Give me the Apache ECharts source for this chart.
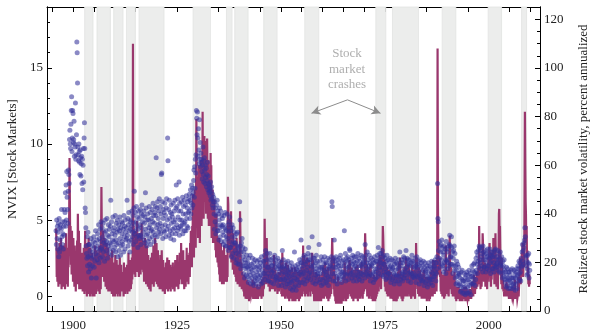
<!DOCTYPE html>
<html><head><meta charset="utf-8">
<script src="https://cdn.jsdelivr.net/npm/echarts@6/dist/echarts.min.js"></script>
<style>html,body{margin:0;padding:0;background:#fff}#c{width:590px;height:336px}</style>
</head><body><div id="c"></div>
<script>
// monthly series, first month at START (decimal year)
const START = 1895.92;
const nvix = [
4.3,3.4,5.0,3.8,4.6,3.1,4.2,4.8,2.6,5.1,2.9,4.5,
3.7,4.7,3.2,4.4,5.7,3.9,3.4,4.9,4.1,3.1,4.6,4.0,
5.7,4.9,5.5,6.8,4.6,7.3,5.0,8.2,6.5,5.7,4.8,6.9,
8.3,8.0,7.4,10.3,10.9,10.0,9.7,11.3,12.2,13.1,9.5,10.4,
12.2,12.0,10.1,10.3,11.5,9.2,10.0,9.8,12.7,9.0,9.3,10.6,
16.7,16.0,14.0,9.8,9.3,8.9,10.0,9.5,8.8,8.0,9.6,9.1,
7.9,8.7,9.2,7.4,9.0,7.0,8.6,9.7,7.5,10.4,11.4,9.7,
5.8,5.5,4.5,3.3,2.8,2.5,3.9,2.0,4.2,2.6,1.6,3.4,
3.4,2.1,3.0,1.8,2.7,3.8,1.2,2.5,3.3,2.0,2.9,3.6,
2.6,3.9,1.9,3.2,2.3,3.5,4.3,2.8,1.2,3.1,3.7,2.4,
4.1,2.7,3.3,4.7,2.2,3.8,3.0,4.4,2.5,3.6,4.9,3.1,
3.2,4.5,2.6,3.9,4.8,2.9,3.5,4.2,2.3,3.7,5.0,3.4,
4.3,3.0,3.6,5.1,2.5,4.0,3.3,4.7,2.8,3.9,4.4,3.5,
3.1,4.6,6.3,3.4,4.9,2.7,4.1,3.7,5.2,3.0,4.3,3.6,
4.5,3.2,4.0,5.3,2.9,3.7,4.8,3.4,4.2,5.0,2.6,4.4,
3.5,4.7,3.0,4.3,5.2,3.8,2.7,4.5,3.3,4.9,4.1,3.6,
4.8,3.4,4.4,2.9,5.3,3.9,4.6,3.1,5.0,4.2,3.7,4.5,
3.8,6.3,4.0,5.1,3.3,4.7,5.5,3.6,4.3,2.9,4.9,4.4,
5.0,3.7,4.6,5.6,3.9,4.2,5.3,3.4,4.8,5.8,6.9,4.1,
4.3,5.5,3.6,4.9,5.9,3.9,4.6,5.2,3.2,4.4,5.6,4.0,
5.1,3.8,4.7,5.7,4.0,3.4,5.4,4.5,6.0,3.9,4.9,5.3,
4.2,5.6,3.7,4.8,5.2,3.5,6.8,4.4,5.8,4.0,3.3,5.0,
5.4,4.1,3.6,5.0,4.5,5.9,3.8,4.7,5.5,3.4,4.3,5.1,
4.4,5.7,3.9,4.9,6.1,4.2,5.3,3.6,4.8,5.5,4.0,5.9,
5.3,9.1,4.5,5.8,3.9,6.2,4.7,5.1,4.2,5.6,6.4,4.4,
4.8,5.9,4.1,5.4,8.0,8.1,4.6,6.2,3.8,5.1,5.7,4.3,
5.5,4.2,6.1,4.7,5.3,3.9,5.8,6.4,4.4,5.0,10.4,8.9,
4.6,5.7,4.0,6.3,5.1,4.3,5.5,3.8,6.0,4.8,5.4,4.1,
5.2,4.4,6.1,4.9,3.7,5.6,4.5,6.3,5.0,4.1,5.8,7.3,
4.7,5.9,4.3,6.4,5.2,4.5,5.6,7.5,4.0,6.1,5.0,4.6,
5.6,4.4,6.2,5.0,4.7,6.5,4.1,5.4,5.9,4.8,6.3,4.3,
4.9,6.0,5.4,4.3,6.6,5.1,4.6,5.8,6.2,4.5,5.5,6.4,
5.6,6.7,5.1,6.3,7.0,5.4,6.1,7.3,5.8,6.6,7.1,6.0,
6.8,7.6,8.3,6.5,8.5,7.1,9.0,8.1,9.3,12.2,11.7,10.6,
12.1,10.4,9.2,11.0,9.6,8.7,11.6,9.0,10.1,8.5,9.4,8.8,
9.0,8.2,7.7,8.6,9.8,8.0,7.5,8.9,9.1,8.3,7.4,8.6,
7.8,8.4,7.2,8.0,7.6,8.8,7.0,7.9,7.4,6.8,7.3,6.9,
7.1,6.6,7.5,6.3,6.9,7.2,6.4,6.0,6.7,5.8,6.2,6.5,
5.4,4.4,6.2,4.9,5.8,4.1,5.3,6.0,4.7,6.3,4.3,5.6,
4.3,5.4,3.7,5.0,5.8,4.5,3.9,5.6,4.7,3.6,5.3,4.6,
5.1,4.2,4.7,3.4,4.0,5.3,3.6,4.5,5.5,3.3,4.4,3.9,
4.3,3.3,5.4,3.8,4.7,3.0,4.2,4.9,3.6,5.2,3.2,4.5,
3.2,4.3,2.6,3.9,4.7,3.4,2.8,4.5,3.6,2.5,4.2,3.5,
3.9,3.0,3.5,2.2,2.8,4.1,2.4,3.3,4.2,2.1,3.2,2.7,
3.0,2.1,6.2,5.0,3.3,1.8,2.9,3.5,2.3,3.8,2.0,3.2,
2.6,1.5,2.9,2.0,1.2,2.4,3.1,1.8,2.2,1.4,2.7,1.9,
1.3,2.2,1.9,0.9,2.5,1.6,1.1,2.0,2.7,1.4,0.8,1.8,
2.1,1.2,1.7,2.5,0.9,1.5,2.2,0.7,1.9,1.3,2.4,1.0,
1.2,1.9,0.8,1.6,2.3,1.1,1.4,2.0,0.6,1.7,2.4,1.3,
1.9,1.0,2.2,1.4,0.8,2.6,1.7,1.2,2.0,0.9,1.5,2.3,
2.3,1.5,2.7,1.1,2.0,3.0,1.7,2.4,1.3,2.8,1.9,1.0,
1.5,2.5,1.9,1.0,2.2,2.8,1.3,1.7,2.4,0.9,2.0,1.6,
2.0,1.3,2.5,1.7,0.8,2.2,1.5,2.7,1.1,1.9,2.4,1.2,
1.3,2.1,1.0,1.8,2.5,1.4,0.7,2.0,1.6,2.3,1.1,1.9,
1.8,1.1,2.2,0.7,1.5,3.0,1.9,1.2,2.4,0.9,1.6,2.0,
1.1,1.8,0.6,1.5,2.2,1.2,1.9,0.8,1.4,2.3,1.0,1.7,
1.6,0.8,1.3,2.0,0.5,1.7,1.1,2.2,0.9,1.4,0.4,1.9,
1.0,1.7,0.6,1.4,2.9,1.2,2.0,0.7,1.6,0.4,1.8,1.1,
1.7,1.0,2.1,1.3,0.7,1.9,1.5,2.4,0.9,1.6,2.2,3.7,
1.4,2.2,1.8,0.9,2.5,1.5,2.0,1.1,2.7,1.6,0.8,2.3,
2.1,1.3,2.6,1.7,1.0,2.3,1.9,2.8,1.2,3.2,1.5,2.4,
1.6,2.4,1.1,2.0,2.7,1.4,1.9,3.9,2.2,0.9,1.7,2.5,
2.0,1.2,2.5,1.6,0.8,2.2,1.4,2.7,1.8,1.0,2.3,1.5,
1.3,2.0,1.7,3.4,0.9,1.5,2.3,1.1,1.9,2.6,0.7,1.8,
1.9,1.1,2.4,1.5,0.8,2.1,1.7,2.6,1.2,1.6,2.2,0.9,
1.4,2.2,1.0,1.8,2.5,1.3,0.7,1.9,1.6,2.4,1.1,2.0,
2.1,1.3,1.8,2.6,6.2,5.9,1.5,2.3,1.0,1.9,2.5,3.7,
1.5,2.3,1.0,1.9,2.6,1.3,2.1,0.8,1.7,2.4,1.2,2.0,
2.2,1.4,2.5,1.1,1.8,2.7,1.5,2.0,0.9,1.6,2.3,1.3,
1.6,2.4,1.2,2.0,4.3,1.5,2.2,2.8,1.0,1.8,2.5,1.4,
2.3,1.5,2.6,1.9,1.1,2.4,2.0,3.1,3.0,1.4,2.2,1.7,
1.5,2.5,1.2,2.1,2.7,1.6,1.0,2.3,1.9,2.6,1.3,2.0,
2.2,1.4,2.6,1.8,1.0,2.3,1.6,2.8,1.3,2.0,2.5,1.1,
1.6,2.3,1.3,2.0,2.7,1.5,2.1,1.0,1.9,2.6,1.4,2.2,
2.3,1.6,2.5,1.2,3.4,2.0,2.7,1.5,2.2,1.8,2.9,1.4,
1.7,2.4,1.3,2.0,2.7,1.5,2.2,1.0,1.9,2.5,1.4,2.1,
2.0,1.3,2.4,1.6,0.9,2.2,1.5,2.6,1.1,1.8,2.3,1.2,
1.6,2.3,1.8,2.7,1.3,2.1,3.2,1.5,2.5,1.9,2.8,2.2,
2.4,1.7,2.8,1.4,2.2,3.0,1.9,2.6,1.3,2.1,2.7,1.6,
2.1,1.4,2.5,1.8,1.1,2.3,1.6,2.7,1.2,1.9,2.4,1.5,
1.5,2.2,1.2,1.9,2.5,1.4,0.9,2.0,1.7,2.4,1.1,1.8,
1.9,1.2,2.3,1.5,0.8,2.1,1.4,2.5,1.0,1.7,2.2,1.3,
1.4,2.1,1.0,1.8,2.4,1.3,1.9,0.8,2.9,1.5,2.2,1.1,
2.0,1.3,2.4,1.6,1.0,2.2,1.5,2.6,1.2,1.8,2.5,1.4,
1.6,2.3,3.0,1.9,1.2,2.5,1.7,2.1,1.0,2.4,1.5,2.0,
2.1,1.4,2.4,1.6,0.9,2.2,1.5,2.7,1.2,1.9,2.3,1.3,
1.5,2.2,1.2,1.9,2.5,1.4,2.0,0.9,1.7,2.6,1.3,2.1,
1.9,1.2,2.3,1.5,0.8,2.0,1.4,2.4,1.1,1.7,2.2,1.0,
1.3,2.0,1.0,1.7,2.3,1.2,0.7,1.9,1.5,2.2,0.9,1.6,
1.7,1.0,2.0,1.3,0.6,1.8,1.2,2.2,0.8,1.5,2.0,1.1,
1.2,1.9,0.9,1.6,2.3,1.1,1.8,0.7,1.5,2.2,1.3,1.9,
2.0,1.3,2.4,1.6,1.0,2.2,1.5,2.6,1.8,7.4,5.1,4.9,
3.0,2.2,3.6,2.5,3.3,1.9,2.9,3.4,2.4,3.7,2.1,3.2,
2.0,2.9,1.6,2.7,3.3,2.2,1.8,3.1,2.4,1.5,3.6,2.3,
3.1,2.4,2.9,1.8,2.2,3.3,2.0,3.4,4.0,3.3,2.6,2.1,
2.6,3.9,3.2,2.1,2.9,1.5,2.5,3.0,2.0,3.3,1.7,2.8,
1.2,2.0,0.8,1.7,2.3,1.3,0.9,2.1,1.5,0.7,1.9,1.4,
1.5,0.8,1.2,0.3,0.7,1.6,0.4,1.1,1.7,0.2,1.0,0.6,
1.0,0.2,1.5,0.6,1.2,0.1,0.9,1.4,0.4,1.6,0.2,1.1,
0.6,1.4,0.2,1.1,1.7,0.7,0.3,1.5,0.9,0.1,1.3,0.8,
2.0,1.3,1.7,0.8,1.2,2.1,0.9,1.6,2.2,0.7,1.5,1.1,
2.5,1.7,2.9,2.1,1.5,2.7,2.3,3.0,1.9,3.3,3.2,2.4,
2.2,3.0,1.8,2.6,3.2,2.0,2.8,1.6,3.3,2.4,2.9,1.9,
2.7,1.9,2.4,3.0,1.6,2.2,2.8,1.8,2.6,3.1,2.0,2.5,
2.0,2.8,1.7,2.5,3.1,2.2,1.5,2.7,2.3,2.9,1.8,2.6,
2.6,1.8,2.9,2.2,1.6,2.7,2.0,3.0,3.1,1.9,2.4,2.1,
1.9,2.6,2.2,3.0,1.7,2.4,2.8,1.6,2.5,2.1,2.9,2.0,
2.2,1.5,2.6,1.9,1.2,2.3,1.6,2.0,1.3,2.4,1.7,1.1,
0.9,1.6,0.6,1.4,1.9,1.1,0.7,1.8,1.2,0.5,1.6,1.1,
1.6,1.0,1.4,0.5,0.9,1.7,0.7,1.2,1.8,0.5,1.2,0.8,
1.2,0.6,1.7,0.9,1.5,0.4,1.2,1.6,0.8,1.8,0.5,1.4,
1.3,2.0,1.0,1.8,2.3,1.5,1.1,2.2,1.6,1.0,2.5,1.9,
2.0,2.9,3.4,2.3,3.0,2.1,3.2,3.5,3.7,4.5,3.9,2.7,
2.6,2.0,2.3,1.4,1.8,2.7,1.5,2.2,2.8,1.2,2.1,1.7
];
const rv = [
34,30,14,22,12,26,18,10,24,15,28,13,
20,11,30,16,9,25,13,21,10,27,14,19,
12,23,9,28,15,32,11,20,14,26,10,22,
18,31,40,63,45,24,35,19,28,15,33,21,
25,12,30,17,22,10,27,14,19,8,24,13,
18,29,11,40,26,16,33,9,21,14,28,12,
17,9,24,13,19,8,22,11,26,15,7,20,
33,14,25,8,19,6,28,11,22,7,30,16,
10,21,6,26,13,7,18,9,24,6,15,11,
22,8,17,6,27,12,20,7,14,25,9,18,
13,24,8,19,11,27,7,16,22,9,30,51,
35,20,28,14,33,18,25,12,30,15,22,10,
24,13,28,9,20,15,26,8,18,12,23,10,
17,8,22,11,19,7,25,10,15,6,20,12,
9,18,6,23,11,16,7,21,10,14,6,19,
12,7,17,9,22,6,14,10,19,8,13,11,
16,8,12,6,20,9,14,7,18,10,15,8,
11,19,7,14,9,24,10,16,8,21,12,15,
9,17,11,22,13,19,110,26,35,18,30,15,
24,14,33,20,28,16,37,22,30,18,26,14,
21,32,17,28,15,25,19,36,23,17,29,20,
16,26,12,22,18,30,14,24,11,20,27,13,
19,10,23,14,17,9,21,13,16,8,22,12,
15,24,11,20,13,27,10,18,25,12,30,17,
22,14,28,11,19,15,25,10,21,13,17,9,
16,23,11,19,9,25,14,18,8,21,12,15,
10,18,7,15,12,20,9,16,11,22,14,8,
17,11,21,9,15,13,19,8,14,18,10,16,
12,20,9,15,11,18,8,14,21,10,16,13,
18,10,23,13,17,9,20,14,11,24,15,19,
13,28,16,22,11,18,14,25,12,20,9,17,
15,21,10,18,14,26,12,19,16,23,11,20,
17,24,14,28,19,33,22,27,18,35,25,48,
28,36,22,42,30,50,36,26,45,79,58,46,
40,55,30,50,35,60,42,28,55,38,62,45,
35,55,40,82,50,64,38,60,72,45,70,48,
64,40,58,45,71,55,38,62,48,35,58,40,
56,35,65,42,60,30,45,33,50,28,42,32,
32,46,28,38,25,34,22,40,27,31,20,29,
24,18,30,15,26,12,22,16,28,13,20,11,
17,25,13,21,11,27,15,19,12,23,14,18,
16,12,20,14,47,44,25,30,38,28,34,22,
30,41,20,35,24,28,17,32,21,26,15,23,
18,28,14,24,12,30,16,20,11,25,13,19,
15,22,10,41,32,18,12,20,9,16,11,14,
12,8,15,6,11,9,14,5,10,7,13,8,
9,5,12,7,10,4,8,6,11,5,9,7,
8,11,6,13,9,5,10,7,12,6,9,5,
7,10,5,9,6,11,8,5,10,7,9,6,
8,6,12,7,10,5,13,8,11,6,14,9,
10,16,38,24,14,20,11,18,30,15,22,12,
17,10,19,12,15,8,18,11,14,9,16,10,
13,18,9,15,11,23,10,14,8,17,12,9,
15,10,13,7,12,9,16,8,11,14,9,12,
11,21,7,17,6,24,19,9,18,6,15,8,
16,5,18,8,20,6,14,17,5,19,7,13,
9,4,17,7,14,5,16,6,10,18,4,13,
7,16,4,14,6,18,9,4,17,7,13,5,
10,5,16,6,14,4,9,17,5,13,6,16,
10,18,6,20,8,27,13,19,23,7,16,6,
14,21,7,18,22,9,17,6,19,10,21,8,
9,18,6,16,8,19,13,24,17,21,7,16,
8,4,15,5,13,6,16,4,10,5,15,4,
7,14,4,12,5,15,4,13,6,4,12,5,
15,6,18,8,17,5,19,9,15,20,6,13,
8,17,5,15,6,18,4,13,7,5,15,6,
13,18,7,20,24,30,22,12,21,9,22,7,
6,15,4,12,3,11,3,10,3,9,14,4,
4,12,3,10,3,9,4,12,3,10,4,11,
6,14,4,12,17,20,15,5,13,4,12,5,
8,17,5,15,19,7,18,21,19,9,6,16,
7,18,5,16,6,15,4,13,17,5,15,6,
15,5,18,8,16,5,19,4,15,9,5,17,
6,16,5,15,7,18,20,6,16,5,15,7,
16,8,18,23,32,26,20,9,15,19,6,14,
13,6,17,5,15,18,7,16,19,8,5,13,
5,14,4,12,4,15,6,5,12,4,14,5,
12,6,17,7,20,9,18,8,21,10,23,16,
14,21,9,22,15,26,21,35,31,25,15,19,
21,10,20,8,19,9,17,7,18,6,16,8,
16,6,17,7,15,5,16,6,13,5,15,6,
5,14,4,12,5,15,6,4,13,14,5,4,
8,15,5,16,7,20,6,15,18,22,7,6,
14,5,15,6,4,14,5,16,6,18,15,7,
16,6,22,17,7,14,16,6,15,17,19,8,
7,16,6,15,8,5,15,17,19,9,6,15,
16,7,17,8,5,16,9,28,20,22,13,17,
16,7,14,18,6,15,8,17,6,15,12,5,
14,6,15,7,16,5,17,8,6,14,5,12,
5,13,4,14,6,12,5,12,13,4,14,5,
8,16,6,15,17,7,16,6,21,17,7,15,
16,7,18,21,13,16,8,17,20,108,45,30,
24,15,21,22,14,18,8,16,7,15,12,6,
7,14,6,15,5,14,8,6,16,27,14,7,
17,9,14,16,7,6,15,23,31,20,17,9,
18,10,7,15,9,6,14,7,6,14,16,6,
9,5,10,4,9,6,10,5,9,6,10,5,
8,4,9,5,8,4,9,5,8,4,8,5,
9,5,10,6,9,4,8,10,5,9,6,5,
5,8,4,8,5,9,6,5,9,6,5,8,
9,12,7,10,6,11,15,8,11,7,13,9,
14,9,16,15,10,12,15,18,11,35,22,17,
13,9,14,16,10,15,18,32,28,22,17,12,
19,13,20,10,17,11,14,17,9,19,12,18,
22,14,25,28,20,12,17,10,18,13,24,22,
25,15,30,27,20,11,18,12,32,20,14,10,
17,11,15,9,19,22,40,42,30,35,25,15,
18,11,22,15,9,11,13,8,10,6,9,6,
10,6,11,8,12,6,10,11,6,9,7,5,
8,6,9,6,9,5,8,7,9,10,6,5,
6,8,5,11,13,7,8,5,8,5,7,5,
6,10,14,6,10,13,16,22,15,11,20,17,
24,15,28,17,14,20,25,18,48,82,60,45,
40,28,35,22,25,16,18,11,14,10,15,11
];
const bandStarts = [1902.81,1905.77,1909.79,1912.85,1915.88,1928.87,1936.9,1938.9,1945.87,1955.74,1972.82,1976.83,1988.77,1999.83,2007.87];
const bandEnds   = [1904.81,1909.0,1912.03,1915.01,1921.89,1933.05,1938.25,1942.1,1949.07,1959.1,1975.22,1983.09,1992.06,2003.06,2009.07];
const xTicks = [1895,1900,1905,1910,1915,1920,1925,1930,1935,1940,1945,1950,1955,1960,1965,1970,1975,1980,1985,1990,1995,2000,2005,2010];
const xLabels = [1900,1925,1950,1975,2000];
const nvixLabels = [0,5,10,15];
const nvixMinor = [1,2,3,4,6,7,8,9,11,12,13,14,16,17,18];
const rvLabels = [0,20,40,60,80,100,120];
const rvMinor = [5,10,15,25,30,35,45,50,55,65,70,75,85,90,95,105,110,115];
const noteText = ['Stock','market','crashes'];
const notePos = [1965.9, 14.9];
const arrowStart = [1966.0, 12.9];
const arrowEnds = [[1957.35, 12.02],[1973.95, 12.02]];

const FONT = 'Liberation Serif';
const nvixData = nvix.map((v,i)=>[START + i/12, v]);
const rvData = rv.map((v,i)=>[START + i/12, v]);
const X0 = 1893.75, X1 = 2012.3;
const L0 = -0.97, L1 = 19.0, R0 = 0, R1 = 125.1;

const chart = echarts.init(document.getElementById('c'), null, {renderer:'canvas'});
const axLine = {show:true, onZero:false, lineStyle:{color:'#000', width:1}};
const tickStyle = {color:'#000', width:1};
const plain = v => String(v);
function yAx(pos, min, max, ticks, labels, len, extra){
  return Object.assign({
    type:'value', position:pos, min:min, max:max, scale:true,
    axisLine:axLine, splitLine:{show:false},
    axisTick:{show:true, inside:true, length:len, customValues:ticks, lineStyle:tickStyle},
    axisLabel: labels ? {show:true, customValues:labels, formatter:plain, fontFamily:FONT, fontSize:13, color:'#222', margin:4} : {show:false}
  }, extra||{});
}
chart.setOption({
  animation:false,
  grid:{left:47, right:50, top:7, bottom:25, containLabel:false, outerBoundsMode:'none'},
  xAxis:[
    {type:'value', position:'bottom', min:X0, max:X1, axisLine:axLine, splitLine:{show:false},
     axisTick:{show:true, inside:true, length:5, customValues:xTicks, lineStyle:tickStyle},
     axisLabel:{show:true, customValues:xLabels, formatter:plain, fontFamily:FONT, fontSize:13, color:'#222', margin:8}},
    {type:'value', position:'top', min:X0, max:X1, axisLine:axLine, splitLine:{show:false},
     axisTick:{show:true, inside:true, length:5, customValues:xTicks, lineStyle:tickStyle},
     axisLabel:{show:false}}
  ],
  yAxis:[
    yAx('left', L0, L1, nvixLabels, nvixLabels, 5, {name:'NVIX [Stock Markets]', nameLocation:'middle', nameGap:27,
        nameTextStyle:{fontFamily:FONT, fontSize:13, color:'#222'}}),
    yAx('right', R0, R1, rvLabels, rvLabels, 5, {name:'Realized stock market volatility, percent annualized', nameLocation:'middle', nameGap:37,
        nameTextStyle:{fontFamily:FONT, fontSize:13, color:'#222'}}),
    yAx('left', L0, L1, nvixMinor, null, 3),
    yAx('right', R0, R1, rvMinor, null, 3)
  ],
  series:[
    {type:'line', xAxisIndex:0, yAxisIndex:0, data:[], z:1, silent:true,
     markArea:{silent:true, itemStyle:{color:'#ecedec', borderColor:'#e2e3e2', borderWidth:0.8},
       data: bandStarts.map((s,i)=>[{xAxis:s},{xAxis:bandEnds[i]}])}},
    {type:'line', name:'RV', xAxisIndex:0, yAxisIndex:1, data:rvData, z:2, showSymbol:false, symbol:'none',
     sampling:null, lineStyle:{color:'#9a376d', width:2.2, join:'miter'}, silent:true},
    {type:'scatter', name:'NVIX', xAxisIndex:0, yAxisIndex:0, data:nvixData, z:3, symbolSize:5,
     itemStyle:{color:'rgba(52,50,155,0.72)'}, silent:true},
    {type:'scatter', xAxisIndex:0, yAxisIndex:0, z:4, symbolSize:0, silent:true,
     data:[{value:notePos}],
     label:{show:true, position:'inside', formatter:noteText.join('\n'), fontFamily:FONT, fontSize:13, lineHeight:15.5, color:'#9a9a9a', align:'center'},
     markLine:{silent:true, symbol:['none','arrow'], symbolSize:[7,9], label:{show:false},
       lineStyle:{color:'#8c8c8c', width:1, type:'solid'},
       data: arrowEnds.map(e=>[{coord:arrowStart},{coord:e}])}}
  ]
});
</script></body></html>
